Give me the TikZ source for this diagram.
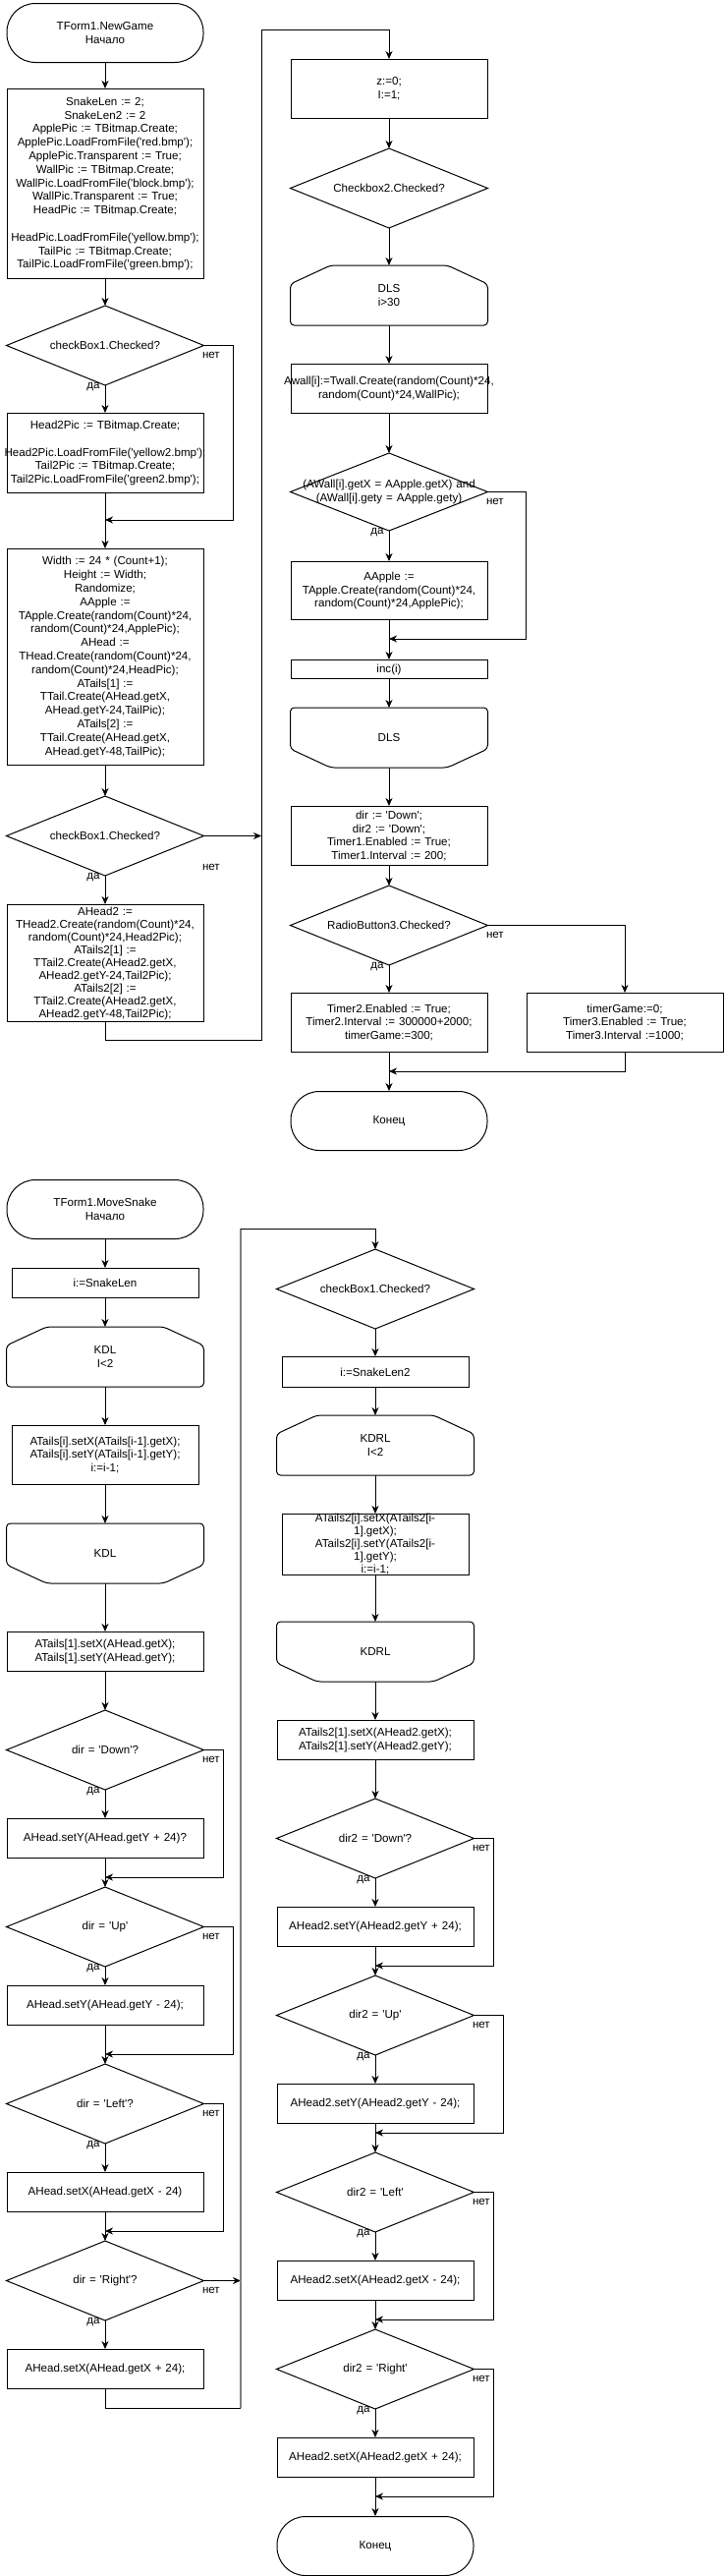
\documentclass[tikz,border=0pt]{standalone}
\usepackage{fontspec}
\setmainfont{Liberation Sans}[Ligatures=TeXOff]
\usetikzlibrary{arrows.meta}
\newcommand{\dfont}{\fontsize{11.6pt}{13.8pt}\selectfont}
\newcommand{\wl}[1]{\makebox[0pt]{#1}}

\begin{document}
\begin{tikzpicture}[x=1pt,y=-1pt,line width=1pt,>={Stealth[length=8pt,width=7pt,inset=2.5pt]}]
	\tikzstyle{blk}=[draw,rectangle,anchor=north,inner sep=0pt,text width=200pt,minimum height=40pt,align=center,font=\dfont]
	\tikzstyle{blks}=[blk,text width=190pt]
	\tikzstyle{term}=[blk,rounded corners=29pt,minimum height=60pt]
	\tikzstyle{cond}=[rectangle,anchor=north,inner sep=0pt,text width=200pt,minimum height=80pt,align=center,font=\dfont]
	\tikzstyle{loopb}=[cond,minimum height=60pt]
	\tikzstyle{dalbl}=[anchor=east,inner sep=0pt,xshift=-5pt,yshift=-2pt,font=\dfont]
	\tikzstyle{netlbl}=[anchor=north west,inner sep=0pt,xshift=-2pt,yshift=-6pt,font=\dfont]
	
	\fill[white] (0,0) rectangle (737,2621);
	\useasboundingbox (0,0) rectangle (737,2621);
	
	% NewGame
	\node[term] (st1) at (107,3) {TForm1.NewGame\\Начало};
	\node[blk,minimum height=193pt] (b1) at (107,90) {SnakeLen := 2;\\SnakeLen2 := 2\\ApplePic := TBitmap.Create;\\ApplePic.LoadFromFile('red.bmp');\\ApplePic.Transparent := True;\\WallPic := TBitmap.Create;\\WallPic.LoadFromFile('block.bmp');\\WallPic.Transparent := True;\\HeadPic := TBitmap.Create;\\[13.8pt]\wl{HeadPic.LoadFromFile('yellow.bmp');}\\TailPic := TBitmap.Create;\\TailPic.LoadFromFile('green.bmp');};
	\node[cond] (c1) at (107,311) {checkBox1.Checked?};
	\node[blk,minimum height=81pt] (b2) at (107,420) {Head2Pic := TBitmap.Create;\\[13.8pt]\wl{Head2Pic.LoadFromFile('yellow2.bmp');}\\Tail2Pic := TBitmap.Create;\\Tail2Pic.LoadFromFile('green2.bmp');};
	\node[blk,minimum height=220pt] (b3) at (107,558) {Width := 24 * (Count+1);\\Height := Width;\\Randomize;\\AApple :=\\TApple.Create(random(Count)*24,\\random(Count)*24,ApplePic);\\AHead :=\\THead.Create(random(Count)*24,\\random(Count)*24,HeadPic);\\ATails[1] :=\\TTail.Create(AHead.getX,\\AHead.getY-24,TailPic);\\ATails[2] :=\\TTail.Create(AHead.getX,\\AHead.getY-48,TailPic);};
	\node[cond] (c2) at (107,810) {checkBox1.Checked?};
	\node[blk,minimum height=119pt,font=\fontsize{11.6pt}{13pt}\selectfont] (b4) at (107,920) {AHead2 :=\\THead2.Create(random(Count)*24,\\random(Count)*24,Head2Pic);\\ATails2[1] :=\\TTail2.Create(AHead2.getX,\\AHead2.getY-24,Tail2Pic);\\ATails2[2] :=\\TTail2.Create(AHead2.getX,\\AHead2.getY-48,Tail2Pic);};
	
	\node[blk,minimum height=60pt] (bz) at (396,60) {z:=0;\\I:=1;};
	\node[cond] (c3) at (396,151) {Checkbox2.Checked?};
	\node[loopb] (lp1) at (396,270) {DLS\\i>30};
	\node[blk,minimum height=50pt] (bw) at (396,370) {\wl{Awall[i]:=Twall.Create(random(Count)*24,}\\random(Count)*24,WallPic);};
	\node[cond,minimum height=78pt] (c4) at (396,461) {(AWall[i].getX = AApple.getX) and\\(AWall[i].gety = AApple.gety)};
	\node[blk,minimum height=59pt] (ba) at (396,571) {AApple :=\\TApple.Create(random(Count)*24,\\random(Count)*24,ApplePic);};
	\node[blk,minimum height=19pt] (binc) at (396,671) {inc(i)};
	\node[loopb] (le1) at (396,720) {DLS};
	\node[blk,minimum height=60pt] (bd) at (396,820) {dir := 'Down';\\dir2 := 'Down';\\Timer1.Enabled := True;\\Timer1.Interval := 200;};
	\node[cond] (c5) at (396,901) {RadioButton3.Checked?};
	\node[blk,minimum height=60pt] (bt2) at (396,1010) {Timer2.Enabled := True;\\Timer2.Interval := 300000+2000;\\timerGame:=300;};
	\node[blk,minimum height=60pt] (bt3) at (636,1010) {timerGame:=0;\\Timer3.Enabled := True;\\Timer3.Interval :=1000;};
	\node[term] (end1) at (396,1110) {Конец};
	
	% MoveSnake
	\node[term] (st2) at (107,1200) {TForm1.MoveSnake\\Начало};
	\node[blks,minimum height=30pt] (bi) at (107,1290) {i:=SnakeLen};
	\node[loopb] (lp2) at (107,1350) {KDL\\I<2};
	\node[blks,minimum height=60pt] (bt) at (107,1450) {ATails[i].setX(ATails[i-1].getX);\\ATails[i].setY(ATails[i-1].getY);\\i:=i-1;};
	\node[loopb] (le2) at (107,1550) {KDL};
	\node[blk] (bt1) at (107,1660) {ATails[1].setX(AHead.getX);\\ATails[1].setY(AHead.getY);};
	\node[cond] (c6) at (107,1740) {dir = 'Down'?};
	\node[blk] (bdn) at (107,1850) {AHead.setY(AHead.getY + 24)?};
	\node[cond] (c7) at (107,1920) {dir = 'Up'};
	\node[blk] (bup) at (107,2020) {AHead.setY(AHead.getY - 24);};
	\node[cond] (c8) at (107,2100) {dir = 'Left'?};
	\node[blk] (blf) at (107,2210) {AHead.setX(AHead.getX - 24)};
	\node[cond] (c9) at (107,2280) {dir = 'Right'?};
	\node[blk] (brt) at (107,2390) {AHead.setX(AHead.getX + 24);};
	
	\node[cond] (c10) at (382,1271) {checkBox1.Checked?};
	\node[blks,minimum height=31pt] (bi2) at (382,1380) {i:=SnakeLen2};
	\node[loopb] (lp3) at (382,1440) {KDRL\\I<2};
	\node[blks,minimum height=60pt,font=\fontsize{11.6pt}{13pt}\selectfont] (btl2) at (382,1540) {ATails2[i].setX(ATails2[i-\\1].getX);\\ATails2[i].setY(ATails2[i-\\1].getY);\\i:=i-1;};
	\node[loopb] (le3) at (382,1650) {KDRL};
	\node[blk] (bt21) at (382,1750) {ATails2[1].setX(AHead2.getX);\\ATails2[1].setY(AHead2.getY);};
	\node[cond] (c11) at (382,1830) {dir2 = 'Down'?};
	\node[blk] (bdn2) at (382,1940) {AHead2.setY(AHead2.getY + 24);};
	\node[cond] (c12) at (382,2010) {dir2 = 'Up'};
	\node[blk] (bup2) at (382,2120) {AHead2.setY(AHead2.getY - 24);};
	\node[cond] (c13) at (382,2190) {dir2 = 'Left'};
	\node[blk] (blf2) at (382,2300) {AHead2.setX(AHead2.getX - 24);};
	\node[cond] (c14) at (382,2370) {dir2 = 'Right'};
	\node[blk] (brt2) at (382,2480) {AHead2.setX(AHead2.getX + 24);};
	\node[term] (end2) at (382,2560) {Конец};
	
	% outlines
	\foreach \n in {c1,c2,c3,c4,c5,c6,c7,c8,c9,c10,c11,c12,c13,c14}
		\draw (\n.north) -- (\n.east) -- (\n.south) -- (\n.west) -- cycle;
	\foreach \n in {lp1,lp2,lp3}
		\draw[rounded corners=4pt] ([yshift=-19pt]\n.north west) -- ([xshift=41pt]\n.north west) -- ([xshift=-41pt]\n.north east) -- ([yshift=-19pt]\n.north east) -- (\n.south east) -- (\n.south west) -- cycle;
	\foreach \n in {le1,le2,le3}
		\draw[rounded corners=4pt] (\n.north west) -- (\n.north east) -- ([yshift=19pt]\n.south east) -- ([xshift=-41pt]\n.south east) -- ([xshift=41pt]\n.south west) -- ([yshift=19pt]\n.south west) -- cycle;
	
	\coordinate (m1) at (107,529);
	\coordinate (lpB) at (107,1058);
	\coordinate (lpT) at (266,30);
	\coordinate (m2) at (396,650);
	\coordinate (m3) at (396,1090);
	\coordinate (m4) at (107,1910);
	\coordinate (m5) at (107,2090);
	\coordinate (m6) at (107,2270);
	\coordinate (gB) at (245,2450);
	\coordinate (gT) at (245,1250);
	\coordinate (m7) at (382,2000);
	\coordinate (m8) at (382,2170);
	\coordinate (m9) at (382,2360);
	\coordinate (m10) at (382,2540);
	
	\draw[->] (st1.south) -- (b1.north);
	\draw[->] (b1.south) -- (c1.north);
	\draw[->] (c1.south) node[dalbl] {да} -- (b2.north);
	\draw[->] (c1.east) node[netlbl] {нет} -- ++(30,0) |- (m1);
	\draw (b2.south) -- (m1);
	\draw[->] (m1) -- (b3.north);
	\draw[->] (b3.south) -- (c2.north);
	\draw[->] (c2.south) node[dalbl] {да} -- (b4.north);
	\draw[->] (c2.east) node[netlbl,yshift=-22pt] {нет} -- (c2.east -| lpT);
	\draw[->] (b4.south) -- (lpB) -| (lpT) -| (bz.north);
	
	\draw[->] (bz.south) -- (c3.north);
	\draw[->] (c3.south) -- (lp1.north);
	\draw[->] (lp1.south) -- (bw.north);
	\draw[->] (bw.south) -- (c4.north);
	\draw[->] (c4.south) node[dalbl] {да} -- (ba.north);
	\draw[->] (c4.east) node[netlbl] {нет} -- ++(39,0) |- (m2);
	\draw (ba.south) -- (m2);
	\draw[->] (m2) -- (binc.north);
	\draw[->] (binc.south) -- (le1.north);
	\draw[->] (le1.south) -- (bd.north);
	\draw[->] (bd.south) -- (c5.north);
	\draw[->] (c5.south) node[dalbl] {да} -- (bt2.north);
	\draw[->] (c5.east) node[netlbl] {нет} -| (bt3.north);
	\draw[->] (bt3.south) |- (m3);
	\draw (bt2.south) -- (m3);
	\draw[->] (m3) -- (end1.north);
	
	\draw[->] (st2.south) -- (bi.north);
	\draw[->] (bi.south) -- (lp2.north);
	\draw[->] (lp2.south) -- (bt.north);
	\draw[->] (bt.south) -- (le2.north);
	\draw[->] (le2.south) -- (bt1.north);
	\draw[->] (bt1.south) -- (c6.north);
	\draw[->] (c6.south) node[dalbl] {да} -- (bdn.north);
	\draw[->] (c6.east) node[netlbl] {нет} -- ++(20,0) |- (m4);
	\draw (bdn.south) -- (m4);
	\draw[->] (m4) -- (c7.north);
	\draw[->] (c7.south) node[dalbl] {да} -- (bup.north);
	\draw[->] (c7.east) node[netlbl] {нет} -- ++(30,0) |- (m5);
	\draw (bup.south) -- (m5);
	\draw[->] (m5) -- (c8.north);
	\draw[->] (c8.south) node[dalbl] {да} -- (blf.north);
	\draw[->] (c8.east) node[netlbl] {нет} -- ++(20,0) |- (m6);
	\draw (blf.south) -- (m6);
	\draw[->] (m6) -- (c9.north);
	\draw[->] (c9.south) node[dalbl] {да} -- (brt.north);
	\draw[->] (c9.east) node[netlbl] {нет} -- (c9.east -| gT);
	\draw (brt.south) |- (gB);
	\draw[gray,line width=2pt] (gB) -- (gT);
	\draw[->] (gT) -| (c10.north);
	
	\draw[->] (c10.south) -- (bi2.north);
	\draw[->] (bi2.south) -- (lp3.north);
	\draw[->] (lp3.south) -- (btl2.north);
	\draw[->] (btl2.south) -- (le3.north);
	\draw[->] (le3.south) -- (bt21.north);
	\draw[->] (bt21.south) -- (c11.north);
	\draw[->] (c11.south) node[dalbl] {да} -- (bdn2.north);
	\draw[->] (c11.east) node[netlbl] {нет} -- ++(20,0) |- (m7);
	\draw (bdn2.south) -- (m7);
	\draw[->] (m7) -- (c12.north);
	\draw[->] (c12.south) node[dalbl] {да} -- (bup2.north);
	\draw[->] (c12.east) node[netlbl] {нет} -- ++(30,0) |- (m8);
	\draw (bup2.south) -- (m8);
	\draw[->] (m8) -- (c13.north);
	\draw[->] (c13.south) node[dalbl] {да} -- (blf2.north);
	\draw[->] (c13.east) node[netlbl] {нет} -- ++(20,0) |- (m9);
	\draw (blf2.south) -- (m9);
	\draw[->] (m9) -- (c14.north);
	\draw[->] (c14.south) node[dalbl] {да} -- (brt2.north);
	\draw[->] (c14.east) node[netlbl] {нет} -- ++(20,0) |- (m10);
	\draw (brt2.south) -- (m10);
	\draw[->] (m10) -- (end2.north);
\end{tikzpicture}
\end{document}
